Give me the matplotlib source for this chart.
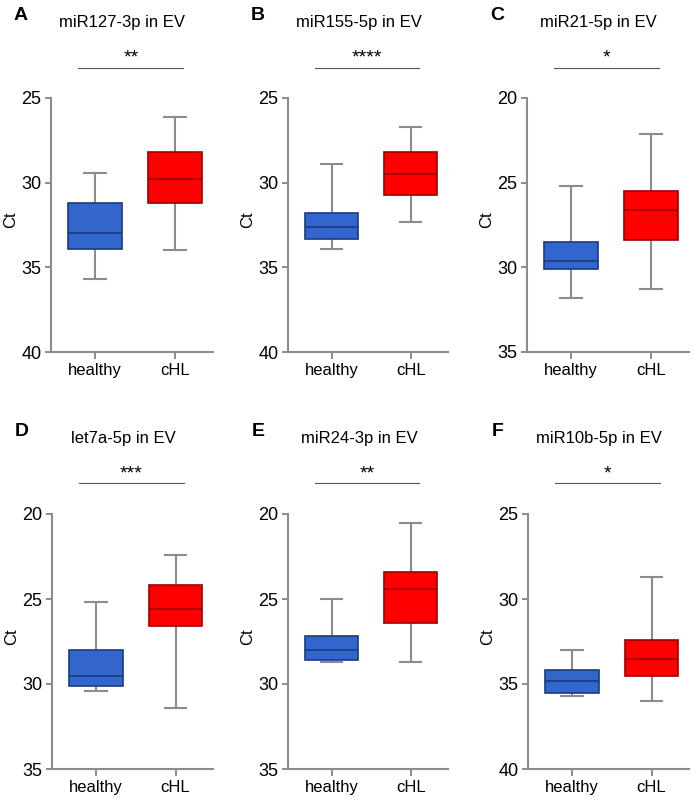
import numpy as np
import matplotlib.pyplot as plt

plt.rcParams['font.family'] = ['Liberation Sans', 'DejaVu Sans']

# --- datos (Ct) ---
letras = ['A', 'B', 'C', 'D', 'E', 'F']
titulos = ['miR127-3p in EV', 'miR155-5p in EV', 'miR21-5p in EV',
           'let7a-5p in EV', 'miR24-3p in EV', 'miR10b-5p in EV']
estrellas = ['**', '****', '*', '***', '**', '*']
grupos = ['healthy', 'cHL']
y_min = [25, 25, 20, 20, 20, 25]
y_max = [40, 40, 35, 35, 35, 40]

# [whislo, q1, med, q3, whishi]
healthy = [
    [29.4, 31.2, 33.0, 33.9, 35.7],
    [28.9, 31.8, 32.6, 33.3, 33.9],
    [25.2, 28.5, 29.6, 30.1, 31.8],
    [25.2, 28.0, 29.5, 30.1, 30.4],
    [25.0, 27.2, 28.0, 28.6, 28.7],
    [33.0, 34.2, 34.8, 35.5, 35.7],
]
chl = [
    [26.1, 28.2, 29.8, 31.2, 34.0],
    [26.7, 28.2, 29.5, 30.7, 32.3],
    [22.1, 25.5, 26.6, 28.4, 31.3],
    [22.4, 24.2, 25.6, 26.6, 31.4],
    [20.5, 23.4, 24.4, 26.4, 28.7],
    [28.7, 32.4, 33.5, 34.5, 36.0],
]

colores = ['#3366cc', '#ff0000']
bordes = ['#1a3a80', '#a00000']
gris = '#8c8c8c'

W, H = 696, 807
fig = plt.figure(figsize=(W / 100, H / 100), dpi=100)

# posiciones de los ejes en pixeles (izq, der, arriba, abajo)
cajas_px = [
    (51, 213, 98, 352), (288, 448, 98, 352), (527, 689, 98, 352),
    (52, 213, 514, 769), (288, 448, 514, 769), (528, 689, 514, 769),
]

for i in range(6):
    l, r, t, b = cajas_px[i]
    ax = fig.add_axes([l / W, 1 - b / H, (r - l) / W, (b - t) / H])

    stats = []
    for g, v in zip(grupos, [healthy[i], chl[i]]):
        stats.append(dict(label=g, whislo=v[0], q1=v[1], med=v[2], q3=v[3], whishi=v[4]))
    bp = ax.bxp(stats, positions=[0, 1], widths=0.67, patch_artist=True,
                showfliers=False, capwidths=0.27,
                whiskerprops=dict(color=gris, lw=1.5),
                capprops=dict(color=gris, lw=1.5))
    for k, caja in enumerate(bp['boxes']):
        caja.set_facecolor(colores[k])
        caja.set_edgecolor(bordes[k])
        caja.set_linewidth(1.2)
        caja.set_zorder(3)
        bp['medians'][k].set_color(bordes[k])
        bp['medians'][k].set_linewidth(1.2)
        bp['medians'][k].set_zorder(4)

    ax.set_xlim(-0.55, 1.47)
    ax.set_ylim(y_max[i], y_min[i])
    ax.set_yticks(np.arange(y_min[i], y_max[i] + 1, 5))
    ax.set_xticks([0, 1])
    ax.set_xticklabels(grupos, fontsize=12)
    ax.tick_params(axis='y', labelsize=13, color=gris, width=1.4, length=4, pad=3)
    ax.tick_params(axis='x', color=gris, width=1.4, length=5, pad=3)
    for s in ['top', 'right']:
        ax.spines[s].set_visible(False)
    for s in ['left', 'bottom']:
        ax.spines[s].set_color(gris)
        ax.spines[s].set_linewidth(1.5)
    ax.set_ylabel('Ct', fontsize=12, va='center')
    ax.yaxis.set_label_coords(-40 / (r - l), 0.52)

    # barra de significancia
    ax.plot([-0.21, 1.1], [1.12, 1.12], transform=ax.get_xaxis_transform(),
            color='#555555', lw=0.8, clip_on=False)
    ax.text(0.445, 1.125, estrellas[i], transform=ax.get_xaxis_transform(),
            ha='center', va='bottom', fontsize=14)

    # titulo y letra del panel
    fig.text((l + 71) / W, 1 - (t - 75) / H, titulos[i], ha='center', va='center', fontsize=12)
    fig.text((l - 30) / W, 1 - (t - 83) / H, letras[i], ha='center', va='center',
             fontsize=14, fontweight='bold')

fig.savefig('out.png', dpi=100)
